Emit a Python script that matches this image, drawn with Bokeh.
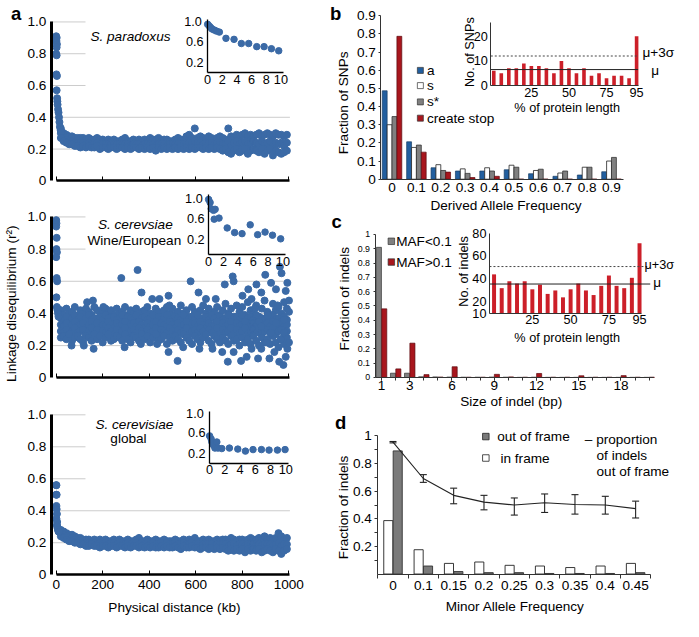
import numpy as np
from bokeh.plotting import figure
from bokeh.models import (Range1d, LinearAxis, FixedTicker, Label, Whisker,
                          TeeHead, ColumnDataSource, AllLabels)
from bokeh.embed import file_html
from bokeh.resources import INLINE

# ------------------------------------------------------------------ data
# panel a : linkage disequilibrium (r^2) vs physical distance (kb)
dist_kb = [20, 32, 44, 56, 68, 80, 92, 104, 116, 128,
           140, 152, 164, 176, 188, 200, 212, 224, 236, 248,
           260, 272, 284, 296, 308, 320, 332, 344, 356, 368,
           380, 392, 404, 416, 428, 440, 452, 464, 476, 488,
           500, 512, 524, 536, 548, 560, 572, 584, 596, 608,
           620, 632, 644, 656, 668, 680, 692, 704, 716, 728,
           740, 752, 764, 776, 788, 800, 812, 824, 836, 848,
           860, 872, 884, 896, 908, 920, 932, 944, 956, 968,
           980, 992]

para_hi = [0.33, 0.30, 0.29, 0.28, 0.28, 0.27, 0.27, 0.27, 0.27, 0.26,
           0.27, 0.26, 0.26, 0.27, 0.26, 0.26, 0.25, 0.26, 0.25, 0.26,
           0.25, 0.25, 0.26, 0.27, 0.25, 0.25, 0.26, 0.25, 0.26, 0.25,
           0.26, 0.25, 0.27, 0.26, 0.26, 0.27, 0.25, 0.26, 0.26, 0.25,
           0.25, 0.26, 0.27, 0.26, 0.25, 0.28, 0.29, 0.27, 0.33, 0.27,
           0.28, 0.27, 0.26, 0.28, 0.27, 0.26, 0.27, 0.28, 0.27, 0.26,
           0.33, 0.28, 0.27, 0.29, 0.28, 0.29, 0.30, 0.28, 0.29, 0.28,
           0.29, 0.30, 0.28, 0.29, 0.30, 0.29, 0.28, 0.30, 0.29, 0.29,
           0.28, 0.29]
para_mid = [0.30, 0.27, 0.26, 0.25, 0.25, 0.24, 0.24, 0.24, 0.24, 0.23,
            0.24, 0.23, 0.24, 0.24, 0.23, 0.23, 0.23, 0.23, 0.23, 0.23,
            0.23, 0.23, 0.23, 0.23, 0.23, 0.22, 0.23, 0.23, 0.23, 0.22,
            0.23, 0.23, 0.23, 0.23, 0.22, 0.23, 0.23, 0.23, 0.22, 0.23,
            0.23, 0.23, 0.23, 0.23, 0.23, 0.24, 0.24, 0.24, 0.25, 0.24,
            0.24, 0.23, 0.24, 0.24, 0.24, 0.23, 0.24, 0.24, 0.23, 0.23,
            0.25, 0.22, 0.24, 0.25, 0.23, 0.24, 0.25, 0.23, 0.24, 0.25,
            0.24, 0.23, 0.25, 0.23, 0.24, 0.25, 0.22, 0.24, 0.23, 0.24,
            0.22, 0.24]
para_lo = [0.27, 0.25, 0.24, 0.23, 0.23, 0.22, 0.22, 0.21, 0.22, 0.21,
           0.22, 0.21, 0.21, 0.22, 0.20, 0.21, 0.21, 0.20, 0.21, 0.21,
           0.20, 0.21, 0.21, 0.20, 0.21, 0.20, 0.21, 0.21, 0.20, 0.21,
           0.20, 0.21, 0.20, 0.21, 0.19, 0.21, 0.20, 0.21, 0.20, 0.21,
           0.20, 0.21, 0.20, 0.21, 0.20, 0.21, 0.20, 0.21, 0.20, 0.21,
           0.21, 0.20, 0.21, 0.20, 0.21, 0.20, 0.21, 0.20, 0.19, 0.20,
           0.18, 0.17, 0.19, 0.20, 0.18, 0.19, 0.20, 0.17, 0.19, 0.20,
           0.19, 0.18, 0.20, 0.17, 0.19, 0.20, 0.16, 0.19, 0.18, 0.17,
           0.18, 0.19]
para0_x = [0, 2, 1, 3, 2, 0, 2, 1, 3, 2, 4, 5, 6, 8, 10, 12, 14, 16, 19, 22]
para0_y = [0.91, 0.90, 0.88, 0.86, 0.84, 0.80, 0.79, 0.67, 0.66, 0.57,
           0.52, 0.50, 0.48, 0.45, 0.43, 0.40, 0.37, 0.34, 0.32, 0.31]

cer_1 = [0.42, 0.39, 0.43, 0.40, 0.41, 0.44, 0.38, 0.42, 0.40, 0.43,
         0.41, 0.39, 0.44, 0.42, 0.38, 0.41, 0.43, 0.40, 0.42, 0.39,
         0.43, 0.40, 0.41, 0.44, 0.39, 0.42, 0.40, 0.43, 0.38, 0.41,
         0.42, 0.44, 0.40, 0.39, 0.43, 0.41, 0.38, 0.42, 0.44, 0.40,
         0.43, 0.39, 0.41, 0.45, 0.40, 0.42, 0.38, 0.44, 0.41, 0.39,
         0.42, 0.45, 0.40, 0.43, 0.38, 0.41, 0.44, 0.39, 0.42, 0.46,
         0.40, 0.43, 0.38, 0.45, 0.41, 0.44, 0.39, 0.47, 0.42, 0.40,
         0.45, 0.38, 0.43, 0.48, 0.41, 0.39, 0.46, 0.42, 0.44, 0.40,
         0.47, 0.43]
cer_2 = [0.37, 0.36, 0.38, 0.35, 0.37, 0.39, 0.36, 0.38, 0.35, 0.37,
         0.39, 0.36, 0.37, 0.35, 0.38, 0.36, 0.39, 0.37, 0.35, 0.38,
         0.36, 0.37, 0.39, 0.35, 0.38, 0.37, 0.36, 0.39, 0.35, 0.37,
         0.38, 0.36, 0.37, 0.39, 0.35, 0.38, 0.36, 0.37, 0.39, 0.36,
         0.35, 0.38, 0.37, 0.36, 0.39, 0.35, 0.37, 0.38, 0.36, 0.39,
         0.37, 0.35, 0.38, 0.36, 0.39, 0.37, 0.35, 0.38, 0.36, 0.37,
         0.39, 0.35, 0.37, 0.38, 0.36, 0.39, 0.35, 0.37, 0.38, 0.36,
         0.39, 0.35, 0.37, 0.36, 0.38, 0.35, 0.39, 0.36, 0.37, 0.35,
         0.38, 0.36]
cer_3 = [0.33, 0.32, 0.34, 0.31, 0.33, 0.35, 0.32, 0.33, 0.34, 0.31,
         0.33, 0.35, 0.32, 0.34, 0.31, 0.33, 0.32, 0.35, 0.33, 0.31,
         0.34, 0.32, 0.33, 0.35, 0.31, 0.33, 0.34, 0.32, 0.35, 0.33,
         0.31, 0.34, 0.32, 0.33, 0.35, 0.31, 0.34, 0.33, 0.32, 0.35,
         0.33, 0.31, 0.34, 0.32, 0.33, 0.35, 0.31, 0.33, 0.34, 0.32,
         0.35, 0.33, 0.31, 0.34, 0.32, 0.33, 0.35, 0.31, 0.34, 0.32,
         0.33, 0.35, 0.31, 0.34, 0.32, 0.33, 0.35, 0.31, 0.33, 0.34,
         0.32, 0.35, 0.31, 0.33, 0.34, 0.32, 0.35, 0.31, 0.33, 0.34,
         0.32, 0.33]
cer_4 = [0.29, 0.28, 0.30, 0.27, 0.29, 0.31, 0.28, 0.29, 0.30, 0.27,
         0.29, 0.31, 0.28, 0.30, 0.27, 0.29, 0.28, 0.31, 0.29, 0.27,
         0.30, 0.28, 0.29, 0.31, 0.27, 0.29, 0.30, 0.28, 0.31, 0.29,
         0.27, 0.30, 0.28, 0.29, 0.31, 0.27, 0.30, 0.29, 0.28, 0.31,
         0.29, 0.27, 0.30, 0.28, 0.29, 0.31, 0.27, 0.29, 0.30, 0.28,
         0.31, 0.29, 0.27, 0.30, 0.28, 0.29, 0.31, 0.27, 0.30, 0.28,
         0.29, 0.31, 0.27, 0.30, 0.28, 0.29, 0.31, 0.27, 0.29, 0.30,
         0.28, 0.31, 0.27, 0.29, 0.30, 0.28, 0.31, 0.27, 0.29, 0.30,
         0.28, 0.29]
cer_5 = [0.25, 0.26, 0.24, 0.27, 0.23, 0.25, 0.26, 0.24, 0.22, 0.26,
         0.25, 0.23, 0.27, 0.24, 0.26, 0.22, 0.25, 0.27, 0.23, 0.24,
         0.26, 0.25, 0.23, 0.27, 0.24, 0.22, 0.26, 0.25, 0.23, 0.27,
         0.24, 0.26, 0.22, 0.25, 0.27, 0.23, 0.24, 0.26, 0.21, 0.25,
         0.23, 0.26, 0.24, 0.22, 0.27, 0.25, 0.23, 0.21, 0.26, 0.24,
         0.22, 0.25, 0.27, 0.23, 0.21, 0.26, 0.24, 0.22, 0.25, 0.23,
         0.21, 0.26, 0.23, 0.24, 0.20, 0.25, 0.22, 0.24, 0.21, 0.26,
         0.23, 0.20, 0.25, 0.22, 0.24, 0.21, 0.26, 0.22, 0.19, 0.24,
         0.21, 0.25]
cer0_x = [0, 1, 0, 2, 1, 3, 0, 2, 4, 1, 3, 5, 6, 8, 10]
cer0_y = [0.98, 0.96, 0.94, 0.87, 0.80, 0.78, 0.75, 0.62, 0.60, 0.50,
          0.44, 0.43, 0.42, 0.40, 0.38]
cer_out_x = [133, 158, 203, 280, 350, 367, 413, 444, 483, 487,
             578, 612, 644, 686, 725, 759, 763, 801, 826, 840,
             861, 899, 882, 924, 945, 962, 969, 987, 1001, 994,
             66, 119, 161, 294, 364, 434, 483, 522, 546, 616,
             672, 714, 738, 763, 795, 819, 840, 868, 882, 903,
             917, 938, 959, 977, 987, 994, 1001, 966, 980, 1001,
             882, 924, 910, 952, 980, 945, 854]
cer_out_y = [0.47, 0.48, 0.44, 0.62, 0.67, 0.53, 0.49, 0.49, 0.51, 0.45,
             0.60, 0.53, 0.49, 0.49, 0.58, 0.63, 0.60, 0.51, 0.55, 0.49,
             0.58, 0.64, 0.53, 0.59, 0.55, 0.69, 0.65, 0.54, 0.48, 0.59,
             0.20, 0.20, 0.18, 0.19, 0.21, 0.21, 0.16, 0.105, 0.19, 0.18,
             0.18, 0.16, 0.10, 0.16, 0.105, 0.13, 0.18, 0.12, 0.18, 0.22,
             0.12, 0.16, 0.10, 0.08, 0.13, 0.18, 0.22, 0.24, 0.36, 0.41,
             0.32, 0.28, 0.39, 0.45, 0.28, 0.34, 0.43]

glob_hi = [0.28, 0.27, 0.26, 0.25, 0.25, 0.24, 0.23, 0.23, 0.22, 0.22,
           0.22, 0.21, 0.22, 0.21, 0.22, 0.21, 0.22, 0.21, 0.21, 0.22,
           0.21, 0.22, 0.21, 0.21, 0.22, 0.21, 0.21, 0.22, 0.23, 0.21,
           0.21, 0.22, 0.21, 0.21, 0.22, 0.21, 0.21, 0.22, 0.21, 0.21,
           0.21, 0.22, 0.21, 0.21, 0.22, 0.21, 0.22, 0.21, 0.23, 0.21,
           0.21, 0.22, 0.21, 0.22, 0.21, 0.21, 0.22, 0.21, 0.22, 0.22,
           0.21, 0.23, 0.22, 0.21, 0.22, 0.22, 0.21, 0.22, 0.23, 0.22,
           0.22, 0.23, 0.22, 0.24, 0.22, 0.23, 0.22, 0.23, 0.26, 0.24,
           0.22, 0.23]
glob_mid = [0.26, 0.25, 0.24, 0.23, 0.23, 0.22, 0.21, 0.21, 0.20, 0.20,
            0.20, 0.20, 0.20, 0.19, 0.20, 0.19, 0.20, 0.19, 0.20, 0.20,
            0.19, 0.20, 0.19, 0.19, 0.20, 0.19, 0.20, 0.20, 0.19, 0.20,
            0.19, 0.20, 0.19, 0.20, 0.19, 0.19, 0.20, 0.19, 0.20, 0.19,
            0.19, 0.20, 0.19, 0.19, 0.20, 0.19, 0.19, 0.20, 0.19, 0.19,
            0.19, 0.19, 0.19, 0.19, 0.19, 0.18, 0.19, 0.19, 0.19, 0.19,
            0.18, 0.19, 0.19, 0.18, 0.19, 0.19, 0.18, 0.19, 0.19, 0.19,
            0.18, 0.19, 0.18, 0.19, 0.19, 0.19, 0.18, 0.19, 0.20, 0.18,
            0.19, 0.19]
glob_lo = [0.24, 0.23, 0.22, 0.21, 0.21, 0.20, 0.20, 0.19, 0.19, 0.18,
           0.18, 0.19, 0.18, 0.18, 0.17, 0.18, 0.18, 0.17, 0.18, 0.18,
           0.17, 0.18, 0.18, 0.17, 0.18, 0.17, 0.18, 0.18, 0.17, 0.18,
           0.17, 0.18, 0.17, 0.18, 0.17, 0.17, 0.18, 0.17, 0.18, 0.17,
           0.17, 0.18, 0.17, 0.16, 0.18, 0.17, 0.17, 0.18, 0.17, 0.17,
           0.16, 0.17, 0.17, 0.16, 0.17, 0.16, 0.17, 0.16, 0.17, 0.16,
           0.15, 0.16, 0.15, 0.16, 0.15, 0.16, 0.14, 0.16, 0.15, 0.16,
           0.15, 0.16, 0.14, 0.15, 0.16, 0.15, 0.14, 0.16, 0.15, 0.13,
           0.15, 0.16]
glob0_x = [0, 1, 0, 2, 1, 2, 3, 1, 4, 3, 5, 6, 8, 10, 12]
glob0_y = [0.56, 0.56, 0.50, 0.50, 0.43, 0.41, 0.38, 0.35, 0.33, 0.31,
           0.30, 0.29, 0.28, 0.27, 0.27]

# insets of panel a (0-10 kb)
ins_para_x = [0.0, 0.2, 0.4, 0.6, 0.9, 1.2, 1.6, 2.5, 3.6, 4.6, 5.6, 6.7, 7.7, 8.7, 9.7]
ins_para_y = [0.93, 0.90, 0.87, 0.84, 0.82, 0.80, 0.78, 0.66, 0.64, 0.56, 0.56, 0.50, 0.50, 0.46, 0.42]
ins_cer_x = [0.0, 0.2, 0.35, 0.66, 0.88, 0.75, 1.4, 2.5, 3.5, 4.5, 5.6, 6.6, 7.6, 8.6, 9.7]
ins_cer_y = [0.97, 0.91, 0.79, 0.76, 0.78, 0.59, 0.61, 0.42, 0.33, 0.31, 0.48, 0.29, 0.34, 0.28, 0.21]
ins_glob_x = [0.0, 0.2, 0.3, 0.5, 0.7, 0.95, 1.1, 1.6, 2.6, 3.7, 4.7, 5.7, 6.8, 7.8, 8.9, 9.9]
ins_glob_y = [0.54, 0.48, 0.42, 0.36, 0.30, 0.42, 0.30, 0.29, 0.30, 0.28, 0.24, 0.27, 0.27, 0.26, 0.26, 0.27]

ld_ticks = [0, 0.2, 0.4, 0.6, 0.8, 1.0]
ld_tick_labels = ["0", "0.2", "0.4", "0.6", "0.8", "1.0"]
dist_ticks = [0, 200, 400, 600, 800, 1000]
dist_tick_labels = ["0", "200", "400", "600", "800", "1000"]
ins_x_ticks = [0, 2, 4, 6, 8, 10]
ins_x_labels = ["0", "2", "4", "6", "8", "10"]
ins_y_ticks = [0.2, 0.6, 1.0]
ins_y_labels = ["0.2", "0.6", "1.0"]

# panel b : derived allele frequency spectrum
daf_labels = ["0", "0.1", "0.2", "0.3", "0.4", "0.5", "0.6", "0.7", "0.8", "0.9"]
daf_a = [0.487, 0.206, 0.063, 0.045, 0.045, 0.052, 0.030, 0.016, 0.023, 0.041]
daf_s = [0.300, 0.175, 0.080, 0.057, 0.063, 0.077, 0.048, 0.034, 0.066, 0.100]
daf_sstar = [0.345, 0.188, 0.048, 0.032, 0.045, 0.066, 0.055, 0.045, 0.066, 0.120]
daf_stop = [0.787, 0.149, 0.039, 0.009, 0.016, 0.0, 0.0, 0.0, 0.0, 0.0]
daf_legend = ["a", "s", "s*", "create stop"]
frac_ticks_b = [0, 0.1, 0.2, 0.3, 0.4, 0.5, 0.6, 0.7, 0.8, 0.9]
frac_labels_b = ["0", "0.1", "0.2", "0.3", "0.4", "0.5", "0.6", "0.7", "0.8", "0.9"]

pct_pos = [0, 5, 10, 15, 20, 25, 30, 35, 40, 45, 50, 55, 60, 65, 70, 75, 80, 85, 90, 95]
snp_counts = [6, 5, 7, 7, 9, 8, 8, 7, 5, 10, 7, 5, 7, 4, 5, 3, 4, 4, 3, 20]
snp_mu, snp_mu3s = 6.5, 12.0
pct_ticks = [25, 50, 75, 95]

# panel c : indel sizes
indel_sizes = [1, 2, 3, 4, 5, 6, 7, 8, 9, 10, 11, 12, 13, 14, 15, 16, 17, 18, 19, 20]
indel_maf_lo = [0.91, 0.03, 0.03, 0.005, 0.004, 0.003, 0.002, 0.002, 0.003, 0.002,
                0.001, 0.002, 0.001, 0.001, 0.001, 0.001, 0.001, 0.001, 0.001, 0.001]
indel_maf_hi = [0.48, 0.06, 0.24, 0.02, 0.003, 0.075, 0.002, 0.002, 0.022, 0.004,
                0.002, 0.028, 0.002, 0.002, 0.012, 0.002, 0.002, 0.013, 0.002, 0.002]
indel_size_ticks = [1, 3, 6, 9, 12, 15, 18]
frac_ticks_c = [0, 0.1, 0.2, 0.3, 0.4, 0.5, 0.6, 0.7, 0.8, 0.9, 1.0]
frac_labels_c = ["0", "0.1", "0.2", "0.3", "0.4", "0.5", "0.6", "0.7", "0.8", "0.9", "1"]
indel_counts = [44, 32, 38, 36, 38, 31, 35, 27, 30, 24, 31, 36, 30, 26, 34, 43, 34, 32, 41, 71]
indel_mu, indel_mu3s = 35.6, 50.8
indel_count_ticks = [10, 20, 40, 60, 80]

# panel d : in-frame / out-of-frame indels
maf_labels = ["0", "0.1", "0.15", "0.2", "0.25", "0.3", "0.35", "0.4", "0.45"]
frame_in = [0.387, 0.176, 0.077, 0.087, 0.063, 0.058, 0.047, 0.058, 0.077]
frame_out = [0.892, 0.058, 0.018, 0.010, 0.010, 0.004, 0.004, 0.004, 0.010]
prop_out = [0.955, 0.692, 0.570, 0.521, 0.500, 0.516, 0.504, 0.500, 0.474]
prop_lo = [0.950, 0.664, 0.509, 0.465, 0.427, 0.446, 0.434, 0.434, 0.406]
prop_hi = [0.960, 0.720, 0.622, 0.570, 0.551, 0.580, 0.575, 0.563, 0.528]
frac_ticks_d = [0.2, 0.4, 0.6, 0.8, 1.0]
frac_labels_d = ["0.2", "0.4", "0.6", "0.8", "1"]

# ------------------------------------------------------------------ styles
FONT = "Liberation Sans"
BLUE_DOT = "#3b6aa6"
BLUE_BAR = "#225f9f"
RED_BAR = "#a8161d"
RED_INSET = "#cc1f29"
GRAY_BAR = "#808080"
GRID = "#cccccc"

W, H = 683, 621
REF_W, REF_H = 699, 637
SX, SY = W / REF_W, H / REF_H

p = figure(width=W, height=H, x_range=Range1d(0, W), y_range=Range1d(H, 0),
           x_axis_type=None, y_axis_type=None, min_border=0, title=None,
           toolbar_location=None, output_backend="svg")
p.outline_line_color = None
p.background_fill_color = "white"
p.border_fill_color = "white"

xr, yr = {}, {}


def PX(v):
    # reference-picture pixel -> figure pixel
    return v * SX


def PY(v):
    return v * SY


def fs(s):
    return f"{s * SY:.1f}px"


def rng(name, xv, xp, yv, yp):
    (v0, v1), (p0, p1) = xv, xp
    f0, f1 = PX(p0), PX(p1)
    k = (f1 - f0) / (v1 - v0)
    s = v0 - f0 / k
    xr[name] = Range1d(s, s + W / k)
    (v0, v1), (p0, p1) = yv, yp
    g0, g1 = H - PY(p0), H - PY(p1)
    k = (g1 - g0) / (v1 - v0)
    s = v0 - g0 / k
    yr[name] = Range1d(s, s + H / k)


def axis(side, name, loc, bounds, ticks, labels=None, minor=None, size=14,
         width=1.0, tick_in=0, tick_out=0, minor_out=0, standoff=3, color="black"):
    ax = LinearAxis(x_range_name=name, y_range_name=name, fixed_location=loc,
                    bounds=bounds, major_label_policy=AllLabels(),
                    ticker=FixedTicker(ticks=ticks, minor_ticks=minor or []))
    if labels is None:
        labels = [str(t) for t in ticks]
    ax.major_label_overrides = {t: l for t, l in zip(ticks, labels)}
    ax.major_label_text_font = FONT
    ax.major_label_text_font_size = fs(size)
    ax.major_label_text_color = "black"
    ax.axis_line_width = width
    ax.axis_line_color = color
    ax.major_tick_line_color = color
    ax.minor_tick_line_color = color
    ax.major_tick_in = tick_in
    ax.major_tick_out = tick_out
    ax.minor_tick_in = 0
    ax.minor_tick_out = minor_out
    ax.major_label_standoff = standoff
    p.add_layout(ax, side)
    return ax


def lbl(x, y, text, size=14, align="center", angle=0.0, style="normal",
        baseline="middle"):
    p.add_layout(Label(x=PX(x), y=PY(y), text=text, text_font=FONT,
                       text_font_size=fs(size), text_align=align,
                       text_baseline=baseline, angle=angle,
                       text_font_style=style, text_color="black"))


def rr(name):
    return dict(x_range_name=name, y_range_name=name)


# ------------------------------------------------------------------ ranges
rng("a1", (0, 1000), (57, 295), (0, 1), (185, 22))
rng("a2", (0, 1000), (57, 295), (0, 1), (387, 222))
rng("a3", (0, 1000), (57, 295), (0, 1), (589, 425))
rng("a1i", (0, 10), (212, 287), (0.2, 1.0), (63.3, 20.7))
rng("a2i", (0, 10), (213, 289), (0.2, 1.0), (245, 202.5))
rng("a3i", (0, 10), (214, 292), (0.2, 1.0), (464.3, 422.7))
rng("b", (0, 9), (400.7, 625.3), (0, 0.9), (183.3, 15.7))
rng("bi", (25, 95), (543.3, 651), (0, 20), (87.3, 36.7))
rng("c", (1, 18), (390, 635), (0, 1), (386.7, 240))
rng("ci", (25, 95), (544.3, 654), (10, 80), (321, 238.5))
rng("d", (0, 8), (401.7, 650), (0, 1), (588.3, 446.7))
p.extra_x_ranges = xr
p.extra_y_ranges = yr

# ------------------------------------------------------------------ panel a
a_sets = [
    ("a1", 0.6, [para_hi, para_mid, para_lo], para0_x, para0_y, [], [],
     ins_para_x, ins_para_y, 0.0, (0, 1.03), False, 212, 20.7),
    ("a2", 0.8, [cer_1, cer_2, cer_3, cer_4, cer_5], cer0_x, cer0_y, cer_out_x,
     cer_out_y, ins_cer_x, ins_cer_y, -0.1, (-0.1, 1.06), False, 213, 202.5),
    ("a3", 0.6, [glob_hi, glob_mid, glob_lo], glob0_x, glob0_y, [], [],
     ins_glob_x, ins_glob_y, 0.0, (0, 1.03), True, 214, 422.7),
]
inset_top_labels = []
for (n, cut, layers, x0s, y0s, ox, oy, ix, iy, iloc, ibounds, show, ax0, ay1) in a_sets:
    gy = ld_ticks[1:]
    gx1 = [126 if v >= cut else 1005 for v in gy]
    p.segment(x0=[-21] * len(gy), y0=gy, x1=gx1, y1=gy, line_color=GRID,
              line_width=1, **rr(n))
    for ys in layers:
        p.scatter(dist_kb, ys, size=7, color=BLUE_DOT, **rr(n))
    if ox:
        p.scatter(ox, oy, size=7, color=BLUE_DOT, **rr(n))
    p.scatter(x0s, y0s, size=7, color=BLUE_DOT, **rr(n))
    axis("left", n, -21, (0, 1), ld_ticks, ld_tick_labels, size=14, width=3,
         standoff=5)
    axis("below", n, 0, (0, 1005), dist_ticks,
         dist_tick_labels if show else [""] * len(dist_ticks), size=14,
         width=2.5, tick_in=4, standoff=5)
    # inset 0-10 kb
    ni = n + "i"
    p.scatter(ix, iy, size=6.5, color=BLUE_DOT, **rr(ni))
    axis("left", ni, 0, ibounds, ins_y_ticks, ins_y_labels[:-1] + [""],
         size=13, width=1.3, standoff=4)
    axis("below", ni, iloc, (0, 10.3), ins_x_ticks, ins_x_labels, size=13,
         width=1.3, standoff=2)
    inset_top_labels.append((ax0, ay1))

# top tick label of each inset ("1.0")
for (ax0, ay1) in inset_top_labels:
    lbl(ax0 - 6, ay1 + 1, ins_y_labels[-1], size=13, align="right")

lbl(16, 13, "a", size=19, style="bold")
lbl(133, 37, "S. paradoxus", style="italic")
lbl(138, 230, "S. cerevsiae", style="italic")
lbl(137, 246, "Wine/European")
lbl(137, 435, "S. cerevisiae", style="italic")
lbl(131, 449, "global")
lbl(11, 311, "Linkage disequilibrium (r²)", angle=np.pi / 2)
lbl(178, 623, "Physical distance (kb)")

# ------------------------------------------------------------------ panel b
gx = np.arange(len(daf_labels))
p.vbar(x=gx - 0.3, top=daf_a, width=0.2, fill_color=BLUE_BAR, line_color="#1a3f66",
       line_width=0.7, **rr("b"))
p.vbar(x=gx - 0.1, top=daf_s, width=0.2, fill_color="white", line_color="#222222",
       line_width=0.8, **rr("b"))
p.vbar(x=gx + 0.1, top=daf_sstar, width=0.2, fill_color=GRAY_BAR, line_color="#333333",
       line_width=0.8, **rr("b"))
p.vbar(x=gx + 0.3, top=daf_stop, width=0.2, fill_color=RED_BAR, line_color="#5a0a0e",
       line_width=0.7, **rr("b"))
axis("left", "b", -0.46, (0, 0.9), frac_ticks_b, frac_labels_b, size=14,
     tick_out=2, standoff=3, color="#333333")
axis("below", "b", 0, (-0.46, 9.5), list(gx), daf_labels, size=14, standoff=4,
     color="#333333")

leg_y = [71.7, 87.3, 104, 120.7]
leg_col = [BLUE_BAR, "white", GRAY_BAR, RED_BAR]
p.scatter([PX(429.7)] * 4, [PY(v) for v in leg_y], marker="square", size=6,
          fill_color=leg_col, line_color="#333333", line_width=0.7)
for yy, t in zip(leg_y, daf_legend):
    lbl(436.5, yy, t, align="left")

# inset of b
p.vbar(x=pct_pos, top=snp_counts, width=2.4, fill_color=RED_INSET,
       line_color=None, **rr("bi"))
p.segment(x0=[-2], y0=[snp_mu], x1=[96], y1=[snp_mu], line_color="#222222",
          line_width=1, **rr("bi"))
p.segment(x0=[-2], y0=[snp_mu3s], x1=[96], y1=[snp_mu3s], line_color="#444444",
          line_width=1, line_dash="2 2", **rr("bi"))
axis("left", "bi", -2, (0, 25.5), [0, 10, 20], size=13, standoff=3,
     color="#333333")
axis("below", "bi", 0, (-2, 96), pct_ticks, size=13, standoff=2, color="#333333")
lbl(657, 53.3, "μ+3σ", align="left")
lbl(666, 71.7, "μ", align="left")
lbl(481, 53, "No. of SNPs", size=13, angle=np.pi / 2)
lbl(580, 110, "% of protein length", size=13)

lbl(343, 13, "b", size=19, style="bold")
lbl(351, 105, "Fraction of SNPs", angle=np.pi / 2)
lbl(517.7, 210, "Derived Allele Frequency")

# ------------------------------------------------------------------ panel c
sz = np.array(indel_sizes)
p.vbar(x=sz - 0.19, top=indel_maf_lo, width=0.36, fill_color=GRAY_BAR,
       line_color="#333333", line_width=0.7, **rr("c"))
p.vbar(x=sz + 0.19, top=indel_maf_hi, width=0.36, fill_color=RED_BAR,
       line_color="#5a0a0e", line_width=0.7, **rr("c"))
axis("left", "c", 0.535, (0, 1), frac_ticks_c, frac_labels_c, size=9,
     tick_out=2, standoff=3, color="#333333")
axis("below", "c", 0, (0.535, 20.3), indel_size_ticks, minor=indel_sizes,
     size=14, tick_out=3, minor_out=3, standoff=1, color="#333333")
p.scatter([PX(400)] * 2, [PY(247), PY(268.3)], marker="square", size=6.5,
          fill_color=[GRAY_BAR, RED_BAR], line_color="#333333", line_width=0.7)
lbl(405, 247.5, "MAF<0.1", align="left")
lbl(405, 268.3, "MAF>0.1", align="left")

# inset of c
p.vbar(x=pct_pos, top=indel_counts, bottom=10, width=2.6, fill_color=RED_INSET,
       line_color=None, **rr("ci"))
p.segment(x0=[-3], y0=[indel_mu], x1=[102], y1=[indel_mu], line_color="#222222",
          line_width=1, **rr("ci"))
p.segment(x0=[-3], y0=[indel_mu3s], x1=[100], y1=[indel_mu3s], line_color="#444444",
          line_width=1, line_dash="2 2", **rr("ci"))
axis("left", "ci", -3, (10, 80), indel_count_ticks, size=13, standoff=3,
     color="#333333")
axis("below", "ci", 10, (-3, 96), pct_ticks, size=13, standoff=2, color="#333333")
lbl(659, 271.7, "μ+3σ", size=13, align="left")
lbl(668, 289, "μ", align="left")
lbl(474, 278, "No. of indels", size=13, angle=np.pi / 2)
lbl(580, 346.7, "% of protein length", size=13)

lbl(344, 227, "c", size=19, style="bold")
lbl(352, 306, "Fraction of indels", angle=np.pi / 2)
lbl(522.7, 411.7, "Size of indel (bp)")

# ------------------------------------------------------------------ panel d
mx = np.arange(len(maf_labels))
p.vbar(x=mx - 0.155, top=frame_in, width=0.3, fill_color="white",
       line_color="#222222", line_width=0.9, **rr("d"))
p.vbar(x=mx + 0.155, top=frame_out, width=0.3, fill_color="#7a7a7a",
       line_color="#333333", line_width=0.9, **rr("d"))
p.line(mx, prop_out, line_color="#222222", line_width=1.1, **rr("d"))
wsrc = ColumnDataSource(dict(x=mx, lo=prop_lo, hi=prop_hi))
p.add_layout(Whisker(source=wsrc, base="x", lower="lo", upper="hi",
                     dimension="height", line_color="#222222", line_width=1.1,
                     upper_head=TeeHead(size=7, line_color="#222222", line_width=1.1),
                     lower_head=TeeHead(size=7, line_color="#222222", line_width=1.1),
                     **rr("d")))
axis("left", "d", -0.5, (0, 1), frac_ticks_d, frac_labels_d,
     minor=[0.1, 0.3, 0.5, 0.7, 0.9], size=14, tick_out=3, minor_out=3,
     standoff=3, color="#333333")
axis("below", "d", 0, (-0.5, 8.5), list(mx), maf_labels,
     minor=list(mx - 0.5) + [8.5], size=14, minor_out=4, standoff=3,
     color="#333333")
p.scatter([PX(496.7)] * 2, [PY(447.3), PY(469.3)], marker="square", size=6.5,
          fill_color=["#7a7a7a", "white"], line_color="#222222", line_width=0.8)
lbl(508.3, 447, "out of frame", align="left")
lbl(511.7, 469.3, "in frame", align="left")
lbl(598, 450, "– proportion", align="left")
lbl(610, 466.7, "of indels", align="left")
lbl(610, 482.7, "out of frame", align="left")

lbl(348, 433, "d", size=19, style="bold")
lbl(351, 520, "Fraction of indels", angle=np.pi / 2)
lbl(526.7, 621.7, "Minor Allele Frequency")

open("out.html", "w").write(file_html(p, INLINE))
